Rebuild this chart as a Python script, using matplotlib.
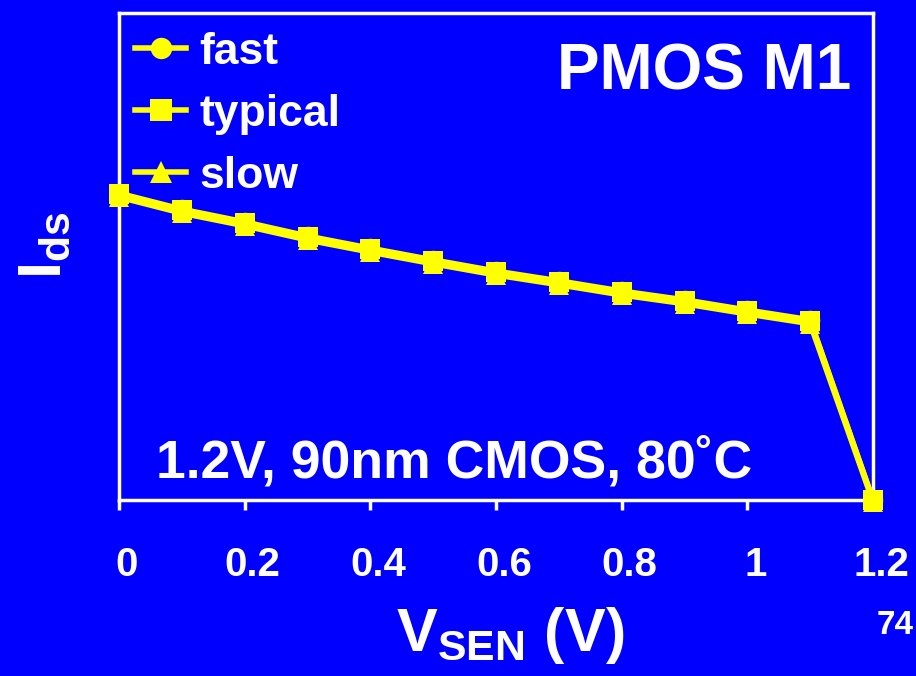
import matplotlib
matplotlib.use("Agg")
import matplotlib.pyplot as plt
from matplotlib import transforms

# Sense voltage sweep and normalized drain current for the three corners
v_sen = [0.0, 0.1, 0.2, 0.3, 0.4, 0.5, 0.6, 0.7, 0.8, 0.9, 1.0, 1.1, 1.2]
ids_fast = [0.630, 0.597, 0.571, 0.542, 0.517, 0.493, 0.470, 0.450, 0.429, 0.411, 0.390, 0.370, 0.0]
ids_typical = [0.628, 0.595, 0.569, 0.540, 0.515, 0.491, 0.468, 0.448, 0.427, 0.409, 0.388, 0.368, 0.0]
ids_slow = [0.622, 0.589, 0.563, 0.534, 0.509, 0.485, 0.462, 0.442, 0.421, 0.403, 0.382, 0.362, -0.004]
corner_labels = ["fast", "typical", "slow"]
xtick_values = [0.0, 0.2, 0.4, 0.6, 0.8, 1.0, 1.2]
xtick_labels = ["0", "0.2", "0.4", "0.6", "0.8", "1", "1.2"]

BLUE = "#0000FF"
YELLOW = "#FFFF00"
WHITE = "#FFFFFF"
BOLD = ["Liberation Sans", "DejaVu Sans"]

plt.rcParams["mathtext.fontset"] = "custom"
plt.rcParams["mathtext.rm"] = "Liberation Sans:bold"
plt.rcParams["mathtext.bf"] = "Liberation Sans:bold"
plt.rcParams["mathtext.it"] = "Liberation Sans:bold"

fig = plt.figure(figsize=(9.16, 6.76), dpi=100, facecolor=BLUE)
ax = fig.add_axes([119 / 916, 1 - 500 / 676, (873 - 119) / 916, (500 - 13) / 676])
ax.set_facecolor(BLUE)

series = [(ids_slow, "^"), (ids_fast, "o"), (ids_typical, "s")]
handles = {}
for values, marker in series:
    (ln,) = ax.plot(v_sen, values, color=YELLOW, lw=4, marker=marker,
                    markersize=14, markeredgewidth=0, clip_on=False, zorder=3)
    handles[marker] = ln

leg = ax.legend([handles["o"], handles["s"], handles["^"]], corner_labels,
                loc="upper left", bbox_to_anchor=(16 / 754, 1 - 19 / 487),
                frameon=False, borderpad=0, borderaxespad=0, markerscale=1.1,
                handlelength=1.15, handletextpad=0.3, labelspacing=0.47,
                prop={"family": BOLD, "weight": "bold", "size": 32})
for t in leg.get_texts():
    t.set_color(WHITE)

ax.set_xlim(0, 1.2)
ax.set_ylim(0, 1)
for s in ax.spines.values():
    s.set_color(WHITE)
    s.set_linewidth(2.5)

ax.set_xticks(xtick_values)
ax.set_xticklabels(xtick_labels)
ax.set_yticks([])
ax.tick_params(axis="x", direction="out", length=7, width=2.5, color=WHITE,
               pad=26, labelcolor=WHITE, labelsize=29)
offset = transforms.ScaledTranslation(8 / 100, 0, fig.dpi_scale_trans)
for lbl in ax.get_xticklabels():
    lbl.set_fontfamily(BOLD)
    lbl.set_fontweight("bold")
    lbl.set_transform(lbl.get_transform() + offset)

ax.text(0.971, 0.94, "PMOS M1", transform=ax.transAxes, ha="right", va="top",
        color=WHITE, fontsize=46, fontweight="bold", family=BOLD)
ax.text(0.444, 0.076, "1.2V, 90nm CMOS, 80˚C", transform=ax.transAxes,
        ha="center", va="center", color=WHITE, fontsize=38.5, fontweight="bold",
        family=BOLD)

fig.text(510 / 916, 1 - 636 / 676, r"$\mathbf{V_{SEN}}$ (V)", ha="center",
         va="center", color=WHITE, fontsize=44, fontweight="bold", family=BOLD)
fig.text(45 / 916, 1 - 245 / 676, r"$\mathbf{I_{ds}}$", ha="center",
         va="center", rotation=90, color=WHITE, fontsize=44, fontweight="bold",
         family=BOLD)
fig.text(895 / 916, 1 - 625 / 676, "74", ha="center", va="center",
         color=WHITE, fontsize=24, fontweight="bold", family=BOLD)

fig.savefig("out.png", dpi=100, facecolor=BLUE)
